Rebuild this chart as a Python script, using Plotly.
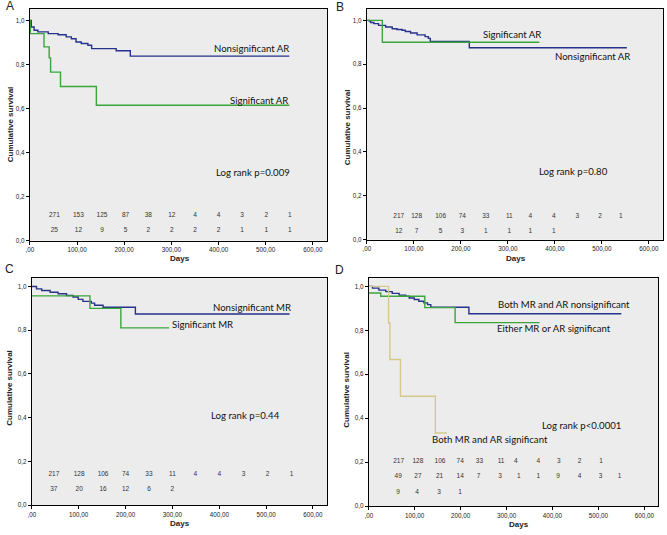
import plotly.graph_objects as go

# ---- survival curves (days, cumulative survival) ----
a_nonsig_days = [0, 3, 9, 17, 39, 60, 77, 88, 98, 109, 123, 131, 183, 213, 550]
a_nonsig_surv = [1.0, 0.97, 0.955, 0.948, 0.94, 0.935, 0.925, 0.917, 0.902, 0.895, 0.887, 0.872, 0.862, 0.838, 0.838]
a_sig_days = [0, 1, 30, 41, 44, 65, 141, 550]
a_sig_surv = [1.0, 0.94, 0.88, 0.83, 0.765, 0.70, 0.615, 0.615]

b_nonsig_days = [0, 5, 8, 15, 25, 40, 54, 64, 75, 82, 93, 107, 124, 131, 135, 218, 553]
b_nonsig_surv = [1.0, 0.997, 0.99, 0.985, 0.977, 0.97, 0.962, 0.958, 0.955, 0.949, 0.942, 0.934, 0.926, 0.918, 0.904, 0.875, 0.875]
b_sig_days = [0, 33, 367]
b_sig_surv = [1.0, 0.90, 0.90]

c_nonsig_days = [0, 10, 21, 39, 56, 74, 88, 99, 109, 127, 134, 152, 221, 550]
c_nonsig_surv = [1.0, 0.989, 0.982, 0.974, 0.967, 0.959, 0.952, 0.941, 0.932, 0.924, 0.914, 0.905, 0.874, 0.874]
c_sig_days = [0, 124, 190, 293]
c_sig_surv = [0.957, 0.90, 0.811, 0.811]

d_none_days = [0, 8, 22, 37, 51, 66, 80, 88, 99, 109, 120, 128, 135, 218, 550]
d_none_surv = [1.0, 0.992, 0.983, 0.976, 0.968, 0.96, 0.955, 0.947, 0.94, 0.932, 0.925, 0.917, 0.905, 0.875, 0.875]
d_either_days = [0, 26, 122, 188, 372]
d_either_surv = [0.97, 0.955, 0.903, 0.835, 0.835]
d_both_days = [0, 43, 46, 69, 145, 170]
d_both_surv = [1.0, 0.833, 0.667, 0.5, 0.333, 0.333]

# ---- numbers at risk ----
a_risk_days = [52, 103, 153, 203, 251, 301, 350, 400, 450, 501, 551]
a_risk_nonsig = [271, 153, 125, 87, 38, 12, 4, 4, 3, 2, 1]
a_risk_sig = [25, 12, 9, 5, 2, 2, 2, 2, 1, 1, 1]

b_risk_days = [68, 106, 157, 203, 253, 303, 348, 398, 448, 496, 540]
b_risk_nonsig = [217, 128, 106, 74, 33, 11, 4, 4, 3, 2, 1]
b_risk_sig = [12, 7, 5, 3, 1, 1, 1, 1]

c_risk_days = [47, 101, 152, 200, 250, 300, 349, 400, 452, 503, 554]
c_risk_nonsig = [217, 128, 106, 74, 33, 11, 4, 4, 3, 2, 1]
c_risk_sig = [37, 20, 16, 12, 6, 2]

d_risk1_days = [65, 107, 155, 199, 241, 288, 320, 369, 414, 459, 506]
d_risk1 = [217, 128, 106, 74, 33, 11, 4, 4, 3, 2, 1]
d_risk2_days = [64, 107, 154, 199, 239, 286, 327, 369, 412, 459, 505, 546]
d_risk2 = [49, 27, 21, 14, 7, 3, 1, 1, 9, 4, 3, 1]
d_risk3_days = [64, 105, 153, 199]
d_risk3 = [9, 4, 3, 1]

x_ticks = [0, 100, 200, 300, 400, 500, 600]
x_ticktext = [",00", "100,00", "200,00", "300,00", "400,00", "500,00", "600,00"]
y_ticks = [0, 0.2, 0.4, 0.6, 0.8, 1.0]
y_ticktext = ["0,0", "0,2", "0,4", "0,6", "0,8", "1,0"]

BLUE = "#25318a"
GREEN = "#3aa53a"
TAN = "#d6c88c"
W, H = 667, 535

fig = go.Figure()


def curve(days, surv, color, ax):
    fig.add_trace(go.Scatter(x=days, y=surv, mode="lines", line=dict(color=color, width=1.4, shape="hv"),
                             xaxis="x" + ax, yaxis="y" + ax, showlegend=False, hoverinfo="skip"))


def risk(days, counts, yrow, ax):
    fig.add_trace(go.Scatter(x=days[:len(counts)], y=[yrow] * len(counts), mode="text",
                             text=[str(c) for c in counts],
                             textfont=dict(size=6.5, color="#333", family="Liberation Sans"),
                             xaxis="x" + ax, yaxis="y" + ax, showlegend=False, hoverinfo="skip"))


def label(text, x, y, ax, size=9.6):
    fig.add_annotation(text=text, x=x, y=y, xref="x" + ax, yref="y" + ax, showarrow=False,
                       xanchor="center", yanchor="middle",
                       font=dict(size=size, family="Lato", color="#111"))


def paper_text(text, px, py, size, angle=0):
    fig.add_annotation(text=text, x=px / W, y=1 - py / H, xref="paper", yref="paper", showarrow=False,
                       xanchor="center", yanchor="middle", textangle=angle,
                       font=dict(size=size, family="Liberation Sans", color="#222"))


# A
curve(a_nonsig_days, a_nonsig_surv, BLUE, "")
curve(a_sig_days, a_sig_surv, GREEN, "")
risk(a_risk_days, a_risk_nonsig, 0.113, "")
risk(a_risk_days, a_risk_sig, 0.045, "")
label("Nonsignificant AR", 469, 0.874, "")
label("Significant AR", 485, 0.637, "")
label("Log rank p=0.009", 473, 0.311, "")

# B
curve(b_nonsig_days, b_nonsig_surv, BLUE, "2")
curve(b_sig_days, b_sig_surv, GREEN, "2")
risk(b_risk_days, b_risk_nonsig, 0.107, "2")
risk(b_risk_days, b_risk_sig, 0.039, "2")
label("Significant AR", 308, 0.937, "2")
label("Nonsignificant AR", 481, 0.834, "2")
label("Log rank p=0.80", 440, 0.309, "2")

# C
curve(c_nonsig_days, c_nonsig_surv, BLUE, "3")
curve(c_sig_days, c_sig_surv, GREEN, "3")
risk(c_risk_days, c_risk_nonsig, 0.142, "3")
risk(c_risk_days, c_risk_sig, 0.07, "3")
label("Nonsignificant MR", 470, 0.906, "3")
label("Significant MR", 364, 0.828, "3")
label("Log rank p=0.44", 457, 0.408, "3")

# D
curve(d_none_days, d_none_surv, BLUE, "4")
curve(d_either_days, d_either_surv, GREEN, "4")
curve(d_both_days, d_both_surv, TAN, "4")
risk(d_risk1_days, d_risk1, 0.202, "4")
risk(d_risk2_days, d_risk2, 0.134, "4")
risk(d_risk3_days, d_risk3, 0.063, "4")
label("Both MR and AR nonsignificant", 425, 0.917, "4")
label("Either MR or AR significant", 403, 0.809, "4")
label("Log rank p<0.0001", 463, 0.369, "4")
label("Both MR and AR significant", 264, 0.304, "4")

# panel boxes in pixels: left, top, right, bottom
boxes = {"": (26, 9, 325, 242), "2": (365, 9, 663, 241), "3": (28, 280, 325, 508), "4": (367, 280, 658, 509)}
ymax = {"": 1.052, "2": 1.052, "3": 1.037, "4": 1.036}
axis_common = dict(showgrid=False, zeroline=False, showline=True, mirror=True, linecolor="black", linewidth=1,
                   ticks="outside", ticklen=3, tickcolor="black", tickfont=dict(size=6.3, family="Liberation Sans", color="#222"))
layout = {}
for ax, (l, t, r, b) in boxes.items():
    layout["xaxis" + ax] = dict(domain=[l / W, r / W], anchor="y" + ax, range=[0, 630],
                                tickvals=x_ticks, ticktext=x_ticktext, **axis_common)
    layout["yaxis" + ax] = dict(domain=[1 - b / H, 1 - t / H], anchor="x" + ax, range=[0, ymax[ax]],
                                tickvals=y_ticks, ticktext=y_ticktext, **axis_common)
fig.update_layout(**layout)

# panel letters and axis titles
for letter, px, py in [("A", 6, 6), ("B", 338, 7), ("C", 6, 271), ("D", 338, 272)]:
    paper_text(letter, px, py, 12)
for px, py in [(177, 260), (515, 260), (177, 526), (518, 527)]:
    paper_text("<b>Days</b>", px, py, 8)
for px, py in [(6, 125), (345, 128), (6, 390), (345, 392)]:
    paper_text("<b>Cumulative survival</b>", px, py, 8, -90)

fig.update_layout(width=W, height=H, margin=dict(l=0, r=0, t=0, b=0), paper_bgcolor="white",
                  plot_bgcolor="#ececec")
fig.write_html("out.html", config={"displayModeBar": False},
               post_script="document.body.style.margin='0';")
